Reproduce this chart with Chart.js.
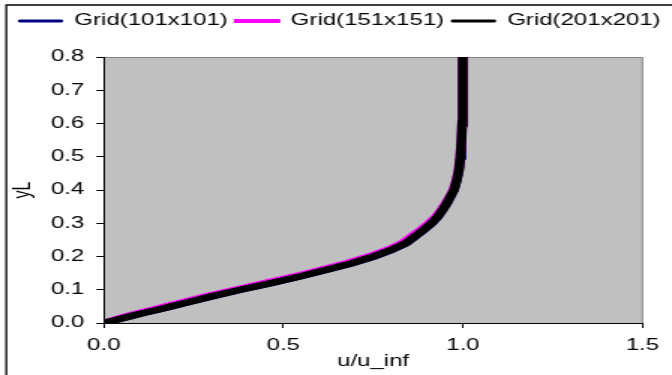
<!DOCTYPE html>
<html><head><meta charset="utf-8">
<script src="https://cdn.jsdelivr.net/npm/chart.js@4.4.1/dist/chart.umd.min.js"></script>
<style>
html,body{margin:0;padding:0;background:#fff;overflow:hidden;width:672px;height:375px}
#wrap{position:absolute;left:0;top:0;width:448px;height:375px;transform:scaleX(1.5);transform-origin:0 0}
canvas{display:block}
</style></head><body>
<div id="wrap"><canvas id="c" width="448" height="375"></canvas></div>
<script>
// ---- data ----
const seriesNames = ['Grid(101x101)', 'Grid(151x151)', 'Grid(201x201)'];
const yL   = [0, 0.01, 0.02, 0.03, 0.04, 0.05, 0.06, 0.08, 0.10, 0.12, 0.14, 0.16, 0.18, 0.20, 0.22, 0.24, 0.26, 0.28, 0.30, 0.32, 0.34, 0.36, 0.38, 0.40, 0.43, 0.46, 0.50, 0.55, 0.60, 0.65, 0.70, 0.75, 0.80];
const u101 = [0, 0.038, 0.075, 0.113, 0.153, 0.191, 0.229, 0.304, 0.384, 0.469, 0.549, 0.624, 0.694, 0.755, 0.804, 0.844, 0.869, 0.893, 0.915, 0.932, 0.945, 0.957, 0.967, 0.976, 0.984, 0.990, 0.994, 0.997, 0.998, 0.999, 1.0, 1.0, 1.0];
const u151 = [0, 0.030, 0.062, 0.097, 0.135, 0.172, 0.210, 0.285, 0.365, 0.447, 0.530, 0.605, 0.675, 0.737, 0.789, 0.830, 0.856, 0.882, 0.905, 0.925, 0.939, 0.952, 0.963, 0.973, 0.982, 0.988, 0.992, 0.996, 0.998, 0.999, 1.0, 1.0, 1.0];
const u201 = [0, 0.036, 0.072, 0.110, 0.150, 0.188, 0.226, 0.300, 0.380, 0.465, 0.545, 0.620, 0.690, 0.750, 0.800, 0.840, 0.865, 0.890, 0.912, 0.930, 0.943, 0.955, 0.965, 0.975, 0.983, 0.989, 0.993, 0.996, 0.998, 0.999, 1.0, 1.0, 1.0];
const xTicks = [0.0, 0.5, 1.0, 1.5];
const yTicks = [0.0, 0.1, 0.2, 0.3, 0.4, 0.5, 0.6, 0.7, 0.8];
const xTitle = 'u/u_inf';
const yTitle = 'yL';

// ---- styles ----
const colors = ['#000080', '#FF00FF', '#000000'];
const lineWidths = [6, 6.5, 6.5];
const legendLW = [1, 2, 1];
const drawOrder = [2, 1, 0];

const pts = u => u.map((v, i) => ({x: v, y: yL[i]}));
const uSeries = [u101, u151, u201];

Chart.defaults.font.family = '"Liberation Sans", Arial, sans-serif';
Chart.defaults.font.size = 16;
Chart.defaults.color = '#000';

const legendSpacer = {
  id: 'legendSpacer',
  beforeInit(chart) {
    if (!chart.legend) return;
    const orig = chart.legend.fit;
    chart.legend.fit = function () { orig.call(this); this.height += 18; };
  }
};

const decor = {
  id: 'decor',
  beforeDraw(chart) {
    const {ctx, chartArea: a, width, height} = chart;
    ctx.save();
    ctx.fillStyle = '#C0C0C0';
    ctx.fillRect(a.left, a.top, a.right - a.left, a.bottom - a.top);
    ctx.strokeStyle = '#808080';
    ctx.lineWidth = 1;
    ctx.beginPath();
    ctx.moveTo(a.left, a.top + 0.5);
    ctx.lineTo(a.right, a.top + 0.5);
    ctx.lineTo(a.right, a.bottom);
    ctx.stroke();
    ctx.strokeStyle = '#000';
    ctx.lineWidth = 1.3;
    ctx.beginPath();
    ctx.moveTo(4.2, height + 5);
    ctx.lineTo(4.2, 5);
    ctx.lineTo(width + 5, 5);
    ctx.stroke();
    ctx.restore();
  }
};

new Chart(document.getElementById('c'), {
  type: 'scatter',
  data: {
    datasets: uSeries.map((u, i) => ({
      label: seriesNames[i],
      data: pts(u),
      showLine: true,
      borderColor: colors[i],
      backgroundColor: colors[i],
      borderWidth: lineWidths[i],
      pointRadius: 0,
      pointHoverRadius: 0,
      tension: 0,
      fill: false,
      order: drawOrder[i]
    }))
  },
  options: {
    responsive: false,
    animation: false,
    devicePixelRatio: 1,
    layout: {padding: {left: 5, top: 8, right: 0, bottom: 0}},
    plugins: {
      tooltip: {enabled: false},
      legend: {
        position: 'top',
        labels: {
          boxWidth: 29,
          boxHeight: 2,
          padding: 5,
          color: '#000',
          font: {size: 16},
          sort: (a, b) => a.datasetIndex - b.datasetIndex,
          generateLabels(chart) {
            const items = Chart.defaults.plugins.legend.labels.generateLabels(chart);
            return items.map(it => Object.assign(it, {
              fillStyle: colors[it.datasetIndex], strokeStyle: colors[it.datasetIndex], lineWidth: legendLW[it.datasetIndex]
            }));
          }
        }
      }
    },
    scales: {
      x: {
        type: 'linear',
        min: xTicks[0], max: xTicks[xTicks.length - 1],
        afterFit(s) { s.height = 52; s.paddingRight = 19.7; },
        ticks: {stepSize: xTicks[1] - xTicks[0], padding: 8, maxRotation: 0, autoSkip: false,
                color: '#000', font: {size: 16}, callback: v => Number(v).toFixed(1)},
        grid: {drawOnChartArea: false, drawTicks: true, tickLength: 5, color: '#000'},
        border: {display: true, color: '#000', width: 1},
        title: {display: true, text: xTitle, color: '#000', font: {size: 16}, padding: {top: 4, bottom: 4}}
      },
      y: {
        type: 'linear',
        min: yTicks[0], max: yTicks[yTicks.length - 1],
        afterFit(s) { s.width = 64.2; },
        ticks: {stepSize: 0.1, padding: 8, autoSkip: false,
                color: '#000', font: {size: 16}, callback: v => Number(v).toFixed(1)},
        grid: {drawOnChartArea: false, drawTicks: true, tickLength: 5, color: '#000'},
        border: {display: true, color: '#000', width: 1},
        title: {display: true, text: yTitle, color: '#000', font: {size: 16}, padding: {top: 1, bottom: 1}}
      }
    }
  },
  plugins: [legendSpacer, decor]
});
</script>
</body></html>
